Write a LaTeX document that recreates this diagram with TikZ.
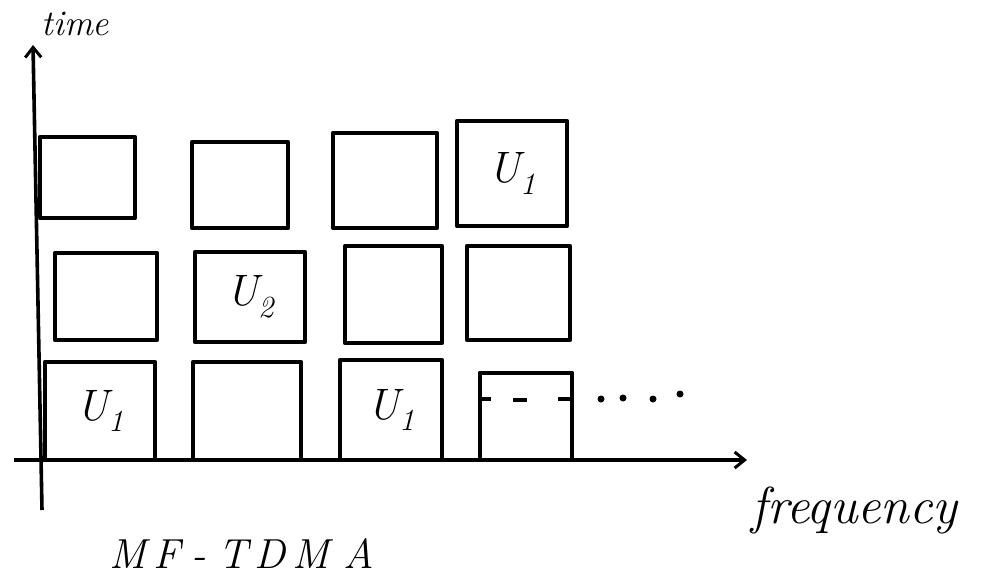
\documentclass[tikz,border=0pt]{standalone}
\usetikzlibrary{arrows.meta}
\begin{document}
\begin{tikzpicture}[x=1pt,y=-1pt,
  cell/.style={draw=black, line width=4.3pt, inner sep=0pt, line join=round},
  axis/.style={draw=black, line width=3.6pt, -{Straight Barb[length=10pt,width=16pt,line width=3pt]}},
  lbl/.style={font=\fontsize{36}{40}\selectfont\itshape},
  flbl/.style={font=\fontsize{52}{56}\selectfont\itshape},
  mlbl/.style={font=\fontsize{42}{46}\selectfont\itshape},
  ulbl/.style={font=\fontsize{44}{48}\selectfont\itshape},
  dotmark/.style={circle, fill=black, inner sep=0pt, minimum size=7pt}]
\useasboundingbox (0,0) rectangle (990,576);
% axes
\coordinate (vb) at (42,510);
\coordinate (vt) at (33,45);
\coordinate (hl) at (14,460);
\coordinate (hr) at (747,460);
\draw[axis] (vb) -- (vt);
\draw[axis] (hl) -- (hr);
\node[lbl, anchor=west] (tlab) at (38,24) {time};
\node[flbl, anchor=west] (flab) at (748,510) {frequency};
\node[mlbl, anchor=west] (mlab) at (106,553) {M\,F\;-\;T\,D\,M\,\,A};
% row 1
\node[cell, minimum width=95pt, minimum height=81pt] (r1c1) at (87.5,177.5) {};
\node[cell, minimum width=96pt, minimum height=86pt] (r1c2) at (240,185) {};
\node[cell, minimum width=104pt, minimum height=95pt] (r1c3) at (385,180.5) {};
\node[cell, minimum width=110pt, minimum height=105pt] (r1c4) at (512,173.5) {};
% row 2
\node[cell, minimum width=102pt, minimum height=87pt] (r2c1) at (106,296.5) {};
\node[cell, minimum width=110pt, minimum height=90pt] (r2c2) at (250,297) {};
\node[cell, minimum width=97pt, minimum height=97pt] (r2c3) at (393.5,294.5) {};
\node[cell, minimum width=103pt, minimum height=94pt] (r2c4) at (518.5,293) {};
% row 3
\node[cell, minimum width=110pt, minimum height=98pt] (r3c1) at (100,411) {};
\node[cell, minimum width=108pt, minimum height=98pt] (r3c2) at (247,411) {};
\node[cell, minimum width=102pt, minimum height=100pt] (r3c3) at (391,410) {};
\node[minimum width=92pt, minimum height=87pt, inner sep=0pt] (r3c4) at (526,416.5) {};
\draw[line width=4.3pt, line join=round] (r3c4.south west) -- (r3c4.north west) -- (r3c4.north east) -- (r3c4.south east);
% dashes inside open cell
\coordinate (d1a) at (480,399); \coordinate (d1b) at (491,399);
\coordinate (d2a) at (513,400); \coordinate (d2b) at (527,400);
\coordinate (d3a) at (558,399); \coordinate (d3b) at (572,399);
\draw[line width=3.5pt] (d1a) -- (d1b);
\draw[line width=3.5pt] (d2a) -- (d2b);
\draw[line width=3.5pt] (d3a) -- (d3b);
% dots
\node[dotmark] (p1) at (601,399) {};
\node[dotmark] (p2) at (623,398) {};
\node[dotmark] (p3) at (653,399) {};
\node[dotmark] (p4) at (680,394) {};
% labels
\node[ulbl] (u1a) at (r3c1) {U\textsubscript{1}};
\node[ulbl] (u2) at (r2c2) {U\textsubscript{2}};
\node[ulbl] (u1b) at (r3c3) {U\textsubscript{1}};
\node[ulbl] (u1c) at (r1c4) {U\textsubscript{1}};
\end{tikzpicture}
\end{document}
